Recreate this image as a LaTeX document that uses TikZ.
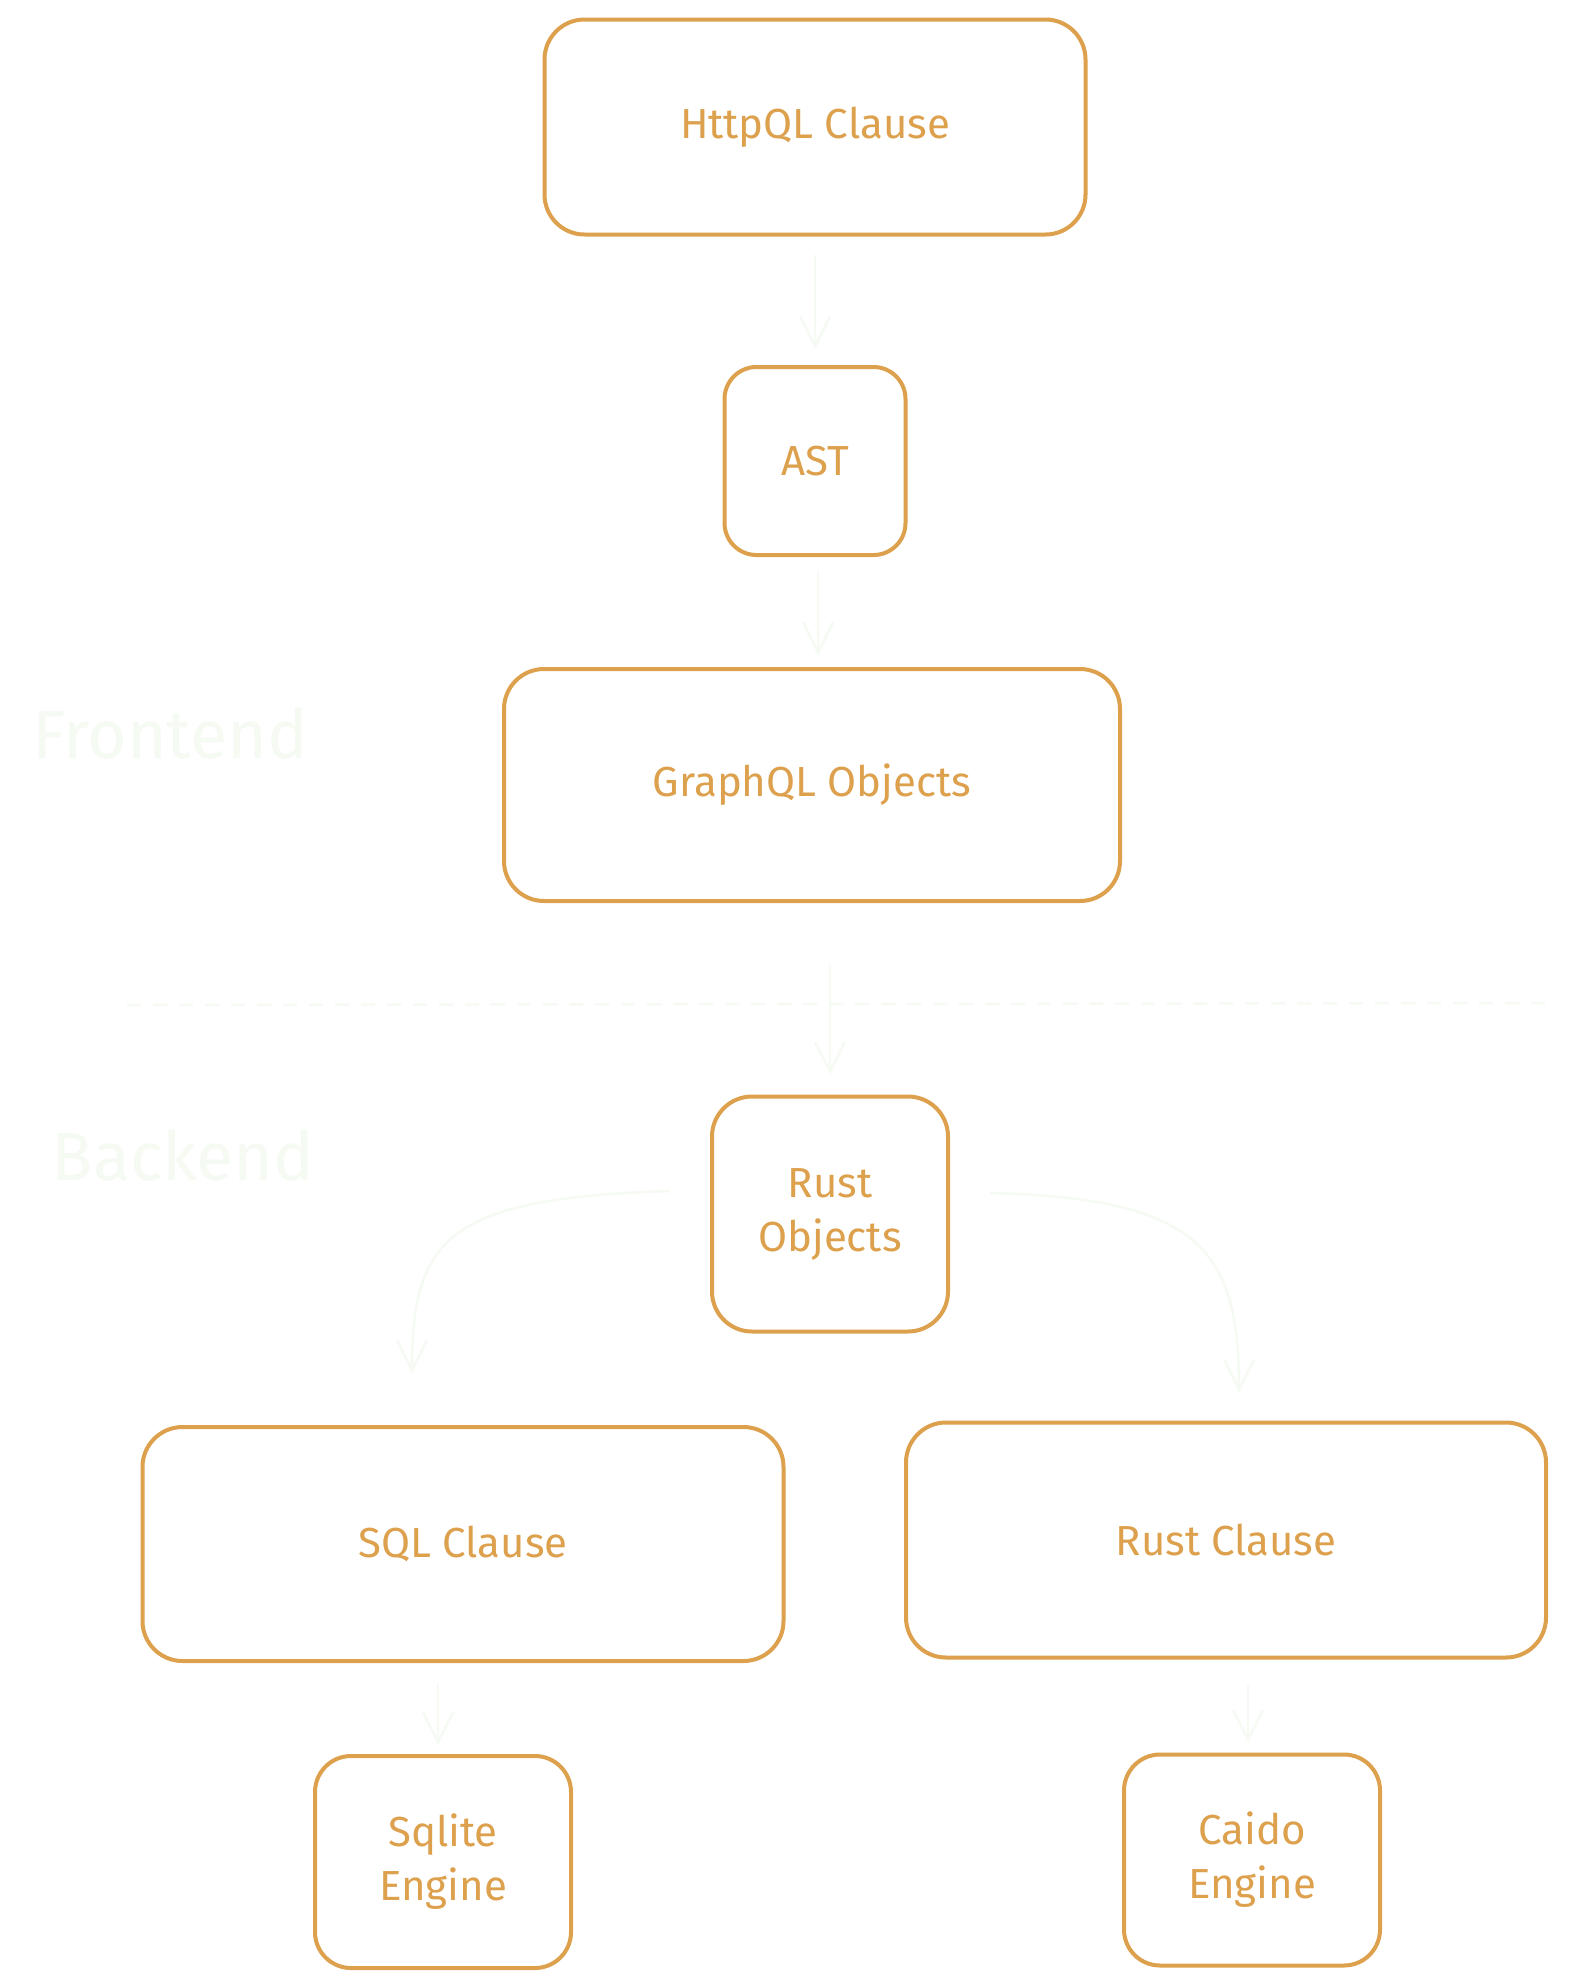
\documentclass[tikz,border=0pt]{standalone}
\usepackage{fontspec}
\setmainfont{Fira Sans}
\usetikzlibrary{arrows.meta}
\definecolor{boxorange}{HTML}{DDA04C}
\definecolor{faint}{HTML}{F5FAF3}
\tikzset{
  box/.style={draw=boxorange, line width=4pt, rounded corners=40pt, text=boxorange,
    font=\fontsize{42}{54}\selectfont, align=center, inner sep=0pt},
  faintarrow/.style={draw=faint, line width=2.5pt, -{Straight Barb[length=30pt,width=30pt]}},
  bigtitle/.style={text=faint, font=\fontsize{68}{80}\selectfont, inner sep=0pt}
}
\begin{document}
\begin{tikzpicture}[x=1pt,y=-1pt]
\useasboundingbox (0,0) rectangle (1570,1987);
\fill[white] (0,0) rectangle (1570,1987);

\node[bigtitle] (front) at (170,733) {Frontend};
\node[bigtitle] (back) at (183,1155) {Backend};

\node[box, minimum width=541pt, minimum height=215pt] (http) at (815,127) {HttpQL Clause};
\node[box, minimum width=181pt, minimum height=188pt, rounded corners=32pt] (ast) at (815,461) {AST};
\node[box, minimum width=616pt, minimum height=232pt] (graph) at (812,785) {GraphQL Objects};
\node[box, minimum width=236pt, minimum height=235pt] (rust) at (830,1214) {Rust\\Objects};
\node[box, minimum width=641pt, minimum height=234pt] (sql) at (463,1544) {SQL Clause};
\node[box, minimum width=640pt, minimum height=235pt] (rclause) at (1226,1540) {Rust Clause};
\node[box, minimum width=256pt, minimum height=212pt, rounded corners=36pt] (sqlite) at (443,1862) {Sqlite\\Engine};
\node[box, minimum width=256pt, minimum height=211pt, rounded corners=36pt] (caido) at (1252,1860) {Caido\\Engine};

\coordinate (dl) at (127,1005);
\coordinate (dr) at (1545,1003);
\draw[faint, line width=2.5pt, dash pattern=on 14pt off 12pt] (dl) -- (dr);

\draw[faintarrow] ([yshift=-18pt]http.south) -- ([yshift=16pt]ast.north);
\draw[faintarrow] ([xshift=3pt,yshift=-14pt]ast.south) -- ([xshift=6pt,yshift=12pt]graph.north);
\draw[faintarrow] ([xshift=18pt,yshift=-62pt]graph.south) -- ([yshift=20pt]rust.north);
\draw[faintarrow] ([xshift=-40pt,yshift=23pt]rust.west) .. controls (445,1198) and (412,1240) .. ([xshift=-51pt,yshift=52pt]sql.north);
\draw[faintarrow] ([xshift=40pt,yshift=21pt]rust.east) .. controls (1200,1198) and (1239,1250) .. ([xshift=13pt,yshift=28pt]rclause.north);
\draw[faintarrow] ([xshift=-25pt,yshift=-21pt]sql.south) -- ([xshift=-5pt,yshift=9pt]sqlite.north);
\draw[faintarrow] ([xshift=22pt,yshift=-25pt]rclause.south) -- ([xshift=-4pt,yshift=10pt]caido.north);
\end{tikzpicture}
\end{document}
